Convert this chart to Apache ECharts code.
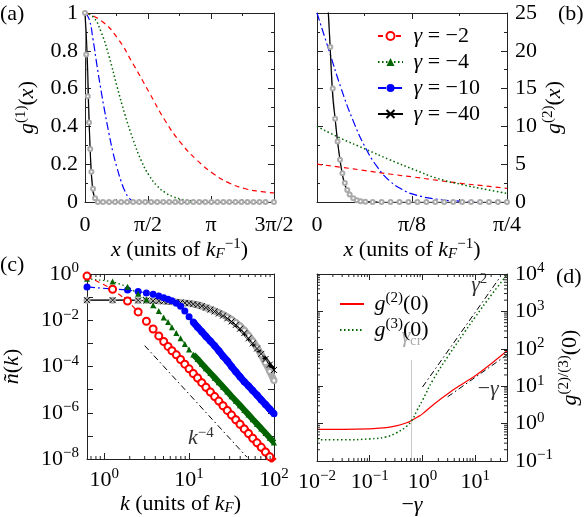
<!DOCTYPE html>
<html>
<head>
<meta charset="utf-8">
<script src="https://cdn.jsdelivr.net/npm/echarts@6/dist/echarts.min.js"></script>
<style>
  html, body { margin: 0; padding: 0; background: #fff; }
  #chart { width: 586px; height: 517px; }
</style>
</head>
<body>
<div id="chart"></div>
<script>
// (a) g1(x), x in units of 1/kF
const g1Red = [[0, 1], [0.4, 0.96], [0.8, 0.87], [1.2, 0.73], [1.6, 0.58], [2.0, 0.43], [2.4, 0.31], [2.8, 0.22], [3.2, 0.15], [3.6, 0.10], [4.0, 0.07], [4.4, 0.055], [4.71, 0.048]]
const g1Green = [[0, 1], [0.2, 0.98], [0.4, 0.9], [0.6, 0.77], [0.8, 0.61], [1.0, 0.46], [1.2, 0.33], [1.4, 0.22], [1.6, 0.14], [1.8, 0.085], [2.0, 0.05], [2.2, 0.028], [2.4, 0.015], [2.6, 0.007], [3.0, 0.002]]
const g1Blue = [[0, 1], [0.1, 0.97], [0.2, 0.86], [0.3, 0.72], [0.4, 0.59], [0.5, 0.47], [0.6, 0.36], [0.7, 0.26], [0.8, 0.18], [0.9, 0.11], [1.0, 0.055], [1.1, 0.02], [1.2, 0.004]]
const g1Black = [[0, 1], [0.05, 0.8], [0.1, 0.45], [0.14, 0.22], [0.18, 0.09], [0.22, 0.035], [0.28, 0.008], [0.35, 0]]
const g1Gray = [[0, 1], [0.03, 0.78], [0.07, 0.56], [0.1, 0.42], [0.13, 0.28], [0.16, 0.16], [0.2, 0.07], [0.25, 0.02], [0.32, 0], [0.45, 0], [0.6, 0], [0.75, 0], [0.9, 0], [1.05, 0], [1.2, 0], [1.35, 0], [1.5, 0], [1.65, 0], [1.8, 0], [1.95, 0], [2.1, 0], [2.25, 0], [2.4, 0], [2.55, 0], [2.7, 0], [2.85, 0], [3.0, 0], [3.15, 0], [3.3, 0], [3.45, 0], [3.6, 0], [3.75, 0], [3.9, 0], [4.05, 0], [4.2, 0], [4.35, 0], [4.5, 0], [4.71, 0]]

// (b) g2(x)
const g2Red = [[0, 5.0], [0.1, 4.6], [0.2, 4.15], [0.3, 3.7], [0.4, 3.3], [0.5, 2.85], [0.6, 2.45], [0.7, 2.1], [0.785, 1.8]]
const g2Green = [[0, 10], [0.1, 8.4], [0.2, 7.0], [0.3, 5.6], [0.4, 4.3], [0.5, 3.1], [0.6, 2.3], [0.7, 1.65], [0.785, 1.15]]
const g2Blue = [[0, 25], [0.05, 20], [0.1, 15], [0.15, 10.7], [0.2, 7.2], [0.25, 4.6], [0.3, 2.8], [0.35, 1.7], [0.4, 1.0], [0.5, 0.35], [0.6, 0.1], [0.65, 0.04]]
const g2Black = [[0, 90], [0.02, 50], [0.04, 30], [0.055, 20], [0.065, 14], [0.075, 11], [0.085, 8], [0.095, 5.6], [0.105, 3.6], [0.115, 2.3], [0.13, 1.2], [0.15, 0.5], [0.17, 0.2], [0.2, 0.05], [0.25, 0]]
const g2Gray = [[0, 95], [0.03, 40], [0.045, 27], [0.055, 20.5], [0.065, 15], [0.075, 11], [0.085, 8], [0.095, 5.6], [0.105, 3.8], [0.115, 2.5], [0.125, 1.6], [0.135, 1.0], [0.15, 0.5], [0.165, 0.22], [0.18, 0.1], [0.2, 0.03], [0.23, 0], [0.267, 0], [0.304, 0], [0.341, 0], [0.378, 0], [0.415, 0], [0.452, 0], [0.489, 0], [0.526, 0], [0.563, 0], [0.6, 0], [0.637, 0], [0.674, 0], [0.711, 0], [0.748, 0], [0.785, 0]]

// (c) momentum distribution n(k), k in units of kF
const kGrid = [0.628, 1.257, 1.885, 2.513, 3.142, 3.770, 4.398, 5.027, 5.655, 6.283, 7.08, 7.94, 8.91, 10, 11.2, 12.6, 14.1, 15.8, 17.8, 20.0, 22.4, 25.1, 28.2, 31.6, 35.5, 39.8, 44.7, 50.1, 56.2, 63.1, 70.8, 79.4, 89.1, 100]
const nRed = [0.81, 0.22, 0.068, 0.023, 9.1e-3, 4.2e-3, 2.1e-3, 1.2e-3, 7.4e-4, 4.8e-4, 3.2e-4, 2.0e-4, 1.26e-4, 7.9e-5, 5.0e-5, 3.2e-5, 2.0e-5, 1.26e-5, 7.9e-6, 5.0e-6, 3.2e-6, 2.0e-6, 1.26e-6, 7.9e-7, 5.0e-7, 3.2e-7, 2.0e-7, 1.26e-7, 7.9e-8, 5.0e-8, 3.2e-8, 2.0e-8, 1.26e-8, 7.9e-9]
const nGreen = [0.63, 0.47, 0.28, 0.14, 0.079, 0.045, 0.025, 0.013, 8.3e-3, 5.0e-3, 2.8e-3, 1.66e-3, 9.5e-4, 5.5e-4, 3.3e-4, 2.1e-4, 1.32e-4, 8.3e-5, 5.2e-5, 3.3e-5, 2.1e-5, 1.32e-5, 8.3e-6, 5.2e-6, 3.3e-6, 2.1e-6, 1.32e-6, 8.3e-7, 5.2e-7, 3.3e-7, 2.1e-7, 1.32e-7, 8.3e-8, 5.2e-8]
const nBlue = [0.275, 0.224, 0.204, 0.174, 0.151, 0.132, 0.112, 0.095, 0.081, 0.069, 0.055, 0.040, 0.025, 0.0141, 8.3e-3, 5.0e-3, 3.2e-3, 2.0e-3, 1.26e-3, 7.9e-4, 4.8e-4, 2.8e-4, 1.74e-4, 1.0e-4, 6.0e-5, 3.6e-5, 2.2e-5, 1.45e-5, 9.1e-6, 5.8e-6, 3.6e-6, 2.3e-6, 1.45e-6, 9.1e-7]
const nBlack = [0.074, 0.074, 0.074, 0.072, 0.071, 0.069, 0.068, 0.066, 0.065, 0.063, 0.062, 0.059, 0.056, 0.054, 0.050, 0.046, 0.041, 0.035, 0.029, 0.024, 0.0195, 0.0158, 0.012, 0.0089, 0.0063, 0.0043, 0.0028, 0.00166, 0.001, 6.0e-4, 3.5e-4, 2.1e-4, 1.2e-4, 7.1e-5]
const nGray = [0.074, 0.074, 0.074, 0.072, 0.071, 0.069, 0.068, 0.066, 0.065, 0.063, 0.062, 0.059, 0.056, 0.054, 0.050, 0.046, 0.041, 0.035, 0.030, 0.025, 0.021, 0.0174, 0.0138, 0.0107, 0.0079, 0.0056, 0.0037, 0.0022, 0.00126, 6.6e-4, 3.2e-4, 1.45e-4, 6.3e-5, 2.5e-5]
const kPow4 = [[3.0, 8e-4], [48, 1.2e-8]]

// (d) local correlations vs -gamma
const gammaD = [0.01, 0.0316, 0.1, 0.2, 0.316, 0.5, 0.631, 0.794, 1.0, 1.585, 3.16, 6.31, 10, 20, 40]
const g2Zero = [0.70, 0.70, 0.72, 0.78, 0.87, 1.05, 1.23, 1.48, 1.82, 3.16, 6.6, 12.6, 19, 40, 89]
const g3Zero = [0.37, 0.37, 0.39, 0.44, 0.56, 0.85, 1.23, 2.3, 4.2, 14.8, 68, 282, 708, 2690, 9550]
const gammaSq = [[1.0, 9.5], [28, 7400]]
const gammaLin = [[3, 5.2], [40, 69]]
const gammaCr = [[0.62, 0.1], [0.62, 50]]

const names = ['γ = −2', 'γ = −4', 'γ = −10', 'γ = −40']

const FONT = 'Liberation Serif'
const FS = 22
const RED = '#ff0000', GREEN = '#006400', BLUE = '#0000ff', BLACK = '#000000', GRAY = '#aaaaaa', FRAME = '#222222'
const DASH = [5, 4], DOT = [1.5, 2.5], DASHDOT = [8, 3, 2, 3]

const RICH = {
  i: { fontStyle: 'italic', fontFamily: FONT, fontSize: FS },
  sup: { fontFamily: FONT, fontSize: 15, padding: [0, 0, 11, 0] },
  isub: { fontFamily: FONT, fontStyle: 'italic', fontSize: 15, padding: [9, 0, 0, 0] },
  sub: { fontFamily: FONT, fontSize: 15, padding: [9, 0, 0, 0] },
}
const txt = { fontFamily: FONT, fontSize: FS, color: '#000', rich: RICH }

const pow10 = e => '10{sup|' + (e < 0 ? '−' + (-e) : e) + '}'
function logLabel(step) {
  return v => {
    const l = Math.log10(v), e = Math.round(l)
    if (Math.abs(l - e) > 1e-6 || e % step !== 0) return ''
    return pow10(e)
  }
}
function minorLog(lo, hi) {
  const out = []
  for (let e = Math.floor(Math.log10(lo)); e <= Math.ceil(Math.log10(hi)); e++) {
    for (let m = 2; m <= 9; m++) {
      const v = m * Math.pow(10, e)
      if (v > lo * 1.0001 && v < hi * 0.9999) out.push(v)
    }
  }
  return out
}

// one side of a panel frame
function ax(grid, position, extra, labels) {
  return Object.assign({
    gridIndex: grid,
    position: position,
    axisLine: { show: true, onZero: false, lineStyle: { color: FRAME, width: 1 } },
    axisTick: { show: true, inside: true, length: 6, lineStyle: { color: FRAME } },
    minorTick: { show: extra.type !== 'log', splitNumber: 2, length: 3, lineStyle: { color: FRAME } },
    splitLine: { show: false },
    minorSplitLine: { show: false },
    axisLabel: labels ? Object.assign({ show: true, margin: 8 }, txt, labels) : { show: false },
    nameLocation: 'middle',
    nameTextStyle: txt,
  }, extra)
}

const piA = ['0', 'π/2', 'π', '3π/2']
const piB = ['0', 'π/8', 'π/4']
const xName = '{i|x} (units of {i|k}{isub|F}{sup|−1})'

const xAxis = [
  ax(0, 'bottom', { type: 'value', min: 0, max: 1.5 * Math.PI, interval: Math.PI / 2, name: xName, nameGap: 32 },
    { margin: 12, formatter: v => piA[Math.round(v / (Math.PI / 2))] }),
  ax(0, 'top', { type: 'value', min: 0, max: 1.5 * Math.PI, interval: Math.PI / 2 }),
  ax(1, 'bottom', { type: 'value', min: 0, max: Math.PI / 4, interval: Math.PI / 8, name: xName, nameGap: 32 },
    { margin: 12, formatter: v => piB[Math.round(v / (Math.PI / 8))] }),
  ax(1, 'top', { type: 'value', min: 0, max: Math.PI / 4, interval: Math.PI / 8 }),
  ax(2, 'bottom', { type: 'log', logBase: 10, min: 0.628, max: 100, name: '{i|k} (units of {i|k}{isub|F})', nameGap: 33 },
    { formatter: logLabel(1) }),
  ax(2, 'top', { type: 'log', logBase: 10, min: 0.628, max: 100 }),
  ax(3, 'bottom', { type: 'log', logBase: 10, min: 0.01, max: 40, name: '−{i|γ}', nameGap: 33 },
    { formatter: logLabel(1) }),
  ax(3, 'top', { type: 'log', logBase: 10, min: 0.01, max: 40 }),
]
const yAxis = [
  ax(0, 'left', { type: 'value', min: 0, max: 1, interval: 0.2, name: '{i|g}{sup|(1)}({i|x})', nameRotate: 90, nameGap: 45 }, { margin: 7 }),
  ax(0, 'right', { type: 'value', min: 0, max: 1, interval: 0.2 }),
  ax(1, 'right', { type: 'value', min: 0, max: 25, interval: 5, name: '{i|g}{sup|(2)}({i|x})', nameRotate: 90, nameGap: 30 }, {}),
  ax(1, 'left', { type: 'value', min: 0, max: 25, interval: 5 }),
  ax(2, 'left', { type: 'log', logBase: 10, min: 1e-8, max: 1, name: '{i|ñ}({i|k})', nameRotate: 90, nameGap: 64 },
    { formatter: logLabel(2) }),
  ax(2, 'right', { type: 'log', logBase: 10, min: 1e-8, max: 1 }),
  ax(3, 'right', { type: 'log', logBase: 10, min: 0.1, max: 1e4, name: '{i|g}{sup|(2)/(3)}(0)', nameRotate: 90, nameGap: 44 },
    { formatter: logLabel(1) }),
  ax(3, 'left', { type: 'log', logBase: 10, min: 0.1, max: 1e4 }),
]

// minor ticks of the log axes, drawn inside on both sides of the frame
function minorTicks(xi, yi, dim, values, other) {
  return {
    type: 'custom', xAxisIndex: xi, yAxisIndex: yi, silent: true, clip: false, z: 5,
    data: values.map(v => dim === 'x' ? [v, other] : [other, v]),
    renderItem(params, api) {
      const cs = params.coordSys
      const p = api.coord([api.value(0), api.value(1)])
      const L = 3
      const segs = dim === 'x'
        ? [[p[0], cs.y + cs.height, p[0], cs.y + cs.height - L], [p[0], cs.y, p[0], cs.y + L]]
        : [[cs.x, p[1], cs.x + L, p[1]], [cs.x + cs.width, p[1], cs.x + cs.width - L, p[1]]]
      return {
        type: 'group',
        children: segs.map(s => ({ type: 'line', shape: { x1: s[0], y1: s[1], x2: s[2], y2: s[3] }, style: { stroke: FRAME, lineWidth: 1 } }))
      }
    }
  }
}

function curve(xi, yi, data, color, dash, width) {
  return {
    type: 'line', xAxisIndex: xi, yAxisIndex: yi, data: data, showSymbol: false, symbol: 'none',
    smooth: 0.5, silent: true,
    lineStyle: { color: color, width: width || 1.2, type: dash || 'solid' }
  }
}

const zipK = vals => kGrid.map((k, i) => [k, vals[i]])
const band = vals => zipK(vals).filter(p => p[0] >= 11)

function marked(name, vals, color, dash, symbol, size, extra) {
  return Object.assign({
    name: name, type: 'line', xAxisIndex: 4, yAxisIndex: 4, data: zipK(vals),
    symbol: symbol, symbolSize: size, showAllSymbol: true,
    lineStyle: { color: color, width: 1.2, type: dash },
    itemStyle: { color: color },
  }, extra || {})
}
function thick(vals, color, w) {
  return { type: 'line', xAxisIndex: 4, yAxisIndex: 4, data: band(vals), symbol: 'none', silent: true,
    lineStyle: { color: color, width: w } }
}
function note(xi, yi, pos, text, color) {
  return {
    type: 'scatter', xAxisIndex: xi, yAxisIndex: yi, silent: true, symbolSize: 1,
    itemStyle: { color: 'rgba(0,0,0,0)' }, data: [pos],
    label: { show: true, position: 'inside', formatter: text, fontFamily: FONT, fontSize: FS, color: color, rich: RICH }
  }
}

const CROSS = 'path://M0,0L10,10M10,0L0,10'

const series = [
  // (a)
  Object.assign(curve(0, 0, g1Gray, GRAY, 'solid', 1), { showSymbol: true, symbol: 'emptyCircle', symbolSize: 4, itemStyle: { color: GRAY }, smooth: false }),
  curve(0, 0, g1Red, RED, DASH),
  curve(0, 0, g1Green, GREEN, DOT, 1.5),
  curve(0, 0, g1Blue, BLUE, DASHDOT),
  curve(0, 0, g1Black, BLACK, 'solid'),
  // (b)
  Object.assign(curve(2, 2, g2Gray, GRAY, 'solid', 1), { showSymbol: true, symbol: 'emptyCircle', symbolSize: 4, itemStyle: { color: GRAY }, smooth: false }),
  curve(2, 2, g2Red, RED, DASH),
  curve(2, 2, g2Green, GREEN, DOT, 1.5),
  curve(2, 2, g2Blue, BLUE, DASHDOT),
  curve(2, 2, g2Black, BLACK, 'solid'),
  // (c)
  thick(nGray, GRAY, 7),
  marked('gray', nGray, GRAY, 'solid', 'emptyCircle', 5),
  thick(nBlack, BLACK, 4),
  marked(names[3], nBlack, BLACK, 'solid', CROSS, 6, { itemStyle: { color: BLACK, borderColor: BLACK, borderWidth: 1 } }),
  thick(nBlue, BLUE, 7),
  marked(names[2], nBlue, BLUE, DASHDOT, 'circle', 7),
  thick(nGreen, GREEN, 6),
  marked(names[1], nGreen, GREEN, DOT, 'triangle', 6),
  thick(nRed, RED, 7),
  marked(names[0], nRed, RED, DASH, 'emptyCircle', 7, { itemStyle: { color: RED, borderWidth: 1.2 } }),
  { type: 'line', xAxisIndex: 4, yAxisIndex: 4, data: kPow4, symbol: 'none', silent: true,
    lineStyle: { color: BLACK, width: 1, type: [6, 3, 1.5, 3] } },
  note(4, 4, [13.8, 7.6e-8], '{i|k}{sup|−4}', '#000'),
  // (d)
  { type: 'line', xAxisIndex: 6, yAxisIndex: 6, data: gammaCr, symbol: 'none', silent: true, lineStyle: { color: '#c8c8c8', width: 1 } },
  note(6, 6, [0.62, 215], '{i|γ}{sub|cr}', '#999'),
  { type: 'line', xAxisIndex: 6, yAxisIndex: 6, data: gammaSq, symbol: 'none', silent: true, lineStyle: { color: BLACK, width: 1, type: [6, 3, 1.5, 3] } },
  { type: 'line', xAxisIndex: 6, yAxisIndex: 6, data: gammaLin, symbol: 'none', silent: true, lineStyle: { color: BLACK, width: 1, type: [6, 3, 1.5, 3] } },
  note(6, 6, [11.9, 5100], '{i|γ}{sup|2}', '#000'),
  note(6, 6, [17.6, 8.5], '−{i|γ}', '#000'),
  Object.assign(curve(6, 6, gammaD.map((g, i) => [g, g2Zero[i]]), RED, 'solid'), { name: 'g2' }),
  Object.assign(curve(6, 6, gammaD.map((g, i) => [g, g3Zero[i]]), GREEN, DOT, 1.5), { name: 'g3' }),
  // log minor ticks
  minorTicks(4, 4, 'x', minorLog(0.628, 100), 1e-8),
  minorTicks(6, 6, 'x', minorLog(0.01, 40), 0.1),
  minorTicks(6, 6, 'y', minorLog(0.1, 1e4), 0.01),
]

const chart = echarts.init(document.getElementById('chart'), null, { renderer: 'canvas' })
chart.setOption({
  animation: false,
  backgroundColor: '#fff',
  grid: [
    { left: 85, top: 13, width: 189, height: 189 },
    { left: 317, top: 13, width: 190, height: 189 },
    { left: 85, top: 274, width: 189, height: 189 },
    { left: 317, top: 274, width: 190, height: 189 },
  ],
  xAxis: xAxis,
  yAxis: yAxis,
  legend: [
    {
      data: names, orient: 'vertical', left: 372, top: 20, itemWidth: 25, itemHeight: 10, itemGap: 4,
      selectedMode: false, formatter: n => ' {i|γ}' + n.slice(1), textStyle: txt,
    },
    {
      data: ['g2', 'g3'], orient: 'vertical', left: 334, top: 286, itemWidth: 24, itemHeight: 10, itemGap: 2,
      selectedMode: false, itemStyle: { opacity: 0 },
      formatter: n => n === 'g2' ? ' {i|g}{sup|(2)}(0)' : ' {i|g}{sup|(3)}(0)', textStyle: txt,
    },
  ],
  graphic: [
    { type: 'text', left: 0, top: 3, style: { text: '(a)', font: '22px "Liberation Serif"', fill: '#000' } },
    { type: 'text', left: 558, top: 3, style: { text: '(b)', font: '22px "Liberation Serif"', fill: '#000' } },
    { type: 'text', left: 0, top: 254, style: { text: '(c)', font: '22px "Liberation Serif"', fill: '#000' } },
    { type: 'text', left: 556, top: 266, style: { text: '(d)', font: '22px "Liberation Serif"', fill: '#000' } },
  ],
  series: series,
})
</script>
</body>
</html>
